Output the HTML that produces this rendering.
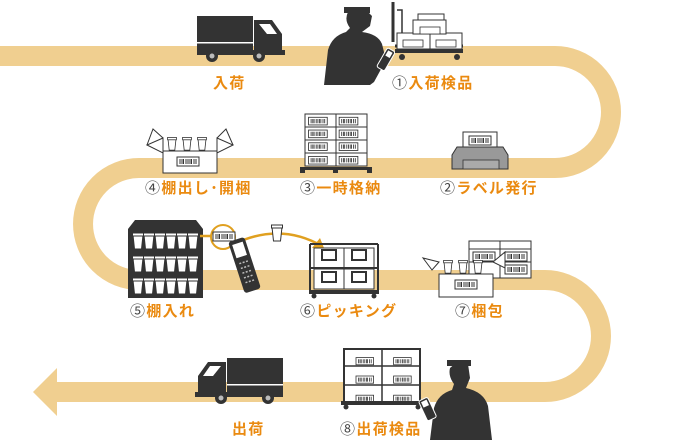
<!DOCTYPE html>
<html><head><meta charset="utf-8"><style>
html,body{margin:0;padding:0;background:#fff;width:680px;height:440px;overflow:hidden}
svg{display:block}
.l{font-family:"Liberation Sans","Noto Sans CJK JP",sans-serif;font-weight:bold;font-size:15px;letter-spacing:1.3px;fill:#ea8a10}
.n{fill:#444;font-weight:normal}
</style></head><body>
<svg width="680" height="440" viewBox="0 0 680 440">
<defs>
<g id="cup"><path d="M0,0 h10 l-1.5,14 h-7z" fill="#fff" stroke="#333" stroke-width="1"/><rect x="-0.5" y="-2" width="11" height="3" fill="#fff" stroke="#333" stroke-width="1"/></g>
<g id="bc"><rect x="0" y="0" width="22" height="9" fill="#fff" stroke="#333"/><path d="M3,2v5M5,2v5M6.5,2v5M9,2v5M11,2v5M13,2v5M14.5,2v5M17,2v5M19,2v5" stroke="#333" stroke-width="1"/></g>
<g id="truck"><rect x="0" y="0" width="56" height="34" fill="#333"/><rect x="0" y="26" width="56" height="1.5" fill="#fff"/><path d="M57,4 h18 l10,14 v16 h3 v5 H57z" fill="#333"/><path d="M62,8 h11 l7,10 h-10z" fill="#fff"/><rect x="0" y="34" width="86" height="5" fill="#333"/><circle cx="15" cy="40" r="6" fill="#333"/><circle cx="15" cy="40" r="2.5" fill="#bbb"/><circle cx="62" cy="40" r="6" fill="#333"/><circle cx="62" cy="40" r="2.5" fill="#bbb"/></g>
</defs>
<path d="M0,56 H555 A56,56 0 0 1 555,168 H139 A56,56 0 0 0 139,280 H545 A56,56 0 0 1 545,392 H52" fill="none" stroke="#f0cf90" stroke-width="20"/>
<path d="M33,392 L57,368 V416 Z" fill="#f0cf90"/>

<use href="#truck" x="197" y="16"/>
<text class="l" x="213" y="88">入荷</text>

<path d="M324,85 L328,50 Q332,36 346,32 L350,28 Q344,20 348,12 Q356,6 366,10 L372,16 L370,26 L362,32 Q378,34 382,44 L386,60 L374,82 L370,85Z" fill="#333"/>
<rect x="344" y="7" width="26" height="6" fill="#333"/>
<g transform="rotate(30 385 60)"><rect x="381" y="48" width="9" height="22" rx="2" fill="#333" stroke="#fff" stroke-width="1"/><rect x="383" y="50" width="5" height="6" fill="#fff"/></g>
<path d="M393,2 v40 M395,46 h68" stroke="#333" stroke-width="3" fill="none"/>
<path d="M397,10 h5 v30" stroke="#333" stroke-width="1.5" fill="none"/>
<rect x="397" y="33" width="33" height="16" fill="#fff" stroke="#333"/><rect x="430" y="33" width="32" height="16" fill="#fff" stroke="#333"/>
<rect x="413" y="20" width="33" height="14" fill="#fff" stroke="#333"/><rect x="418" y="14" width="26" height="6" fill="#fff" stroke="#333"/>
<rect x="403" y="40" width="20" height="7" fill="#fff" stroke="#333" stroke-width=".8"/><rect x="436" y="40" width="20" height="7" fill="#fff" stroke="#333" stroke-width=".8"/><rect x="420" y="27" width="20" height="7" fill="#fff" stroke="#333" stroke-width=".8"/>
<rect x="395" y="49" width="68" height="4" fill="#333"/><circle cx="402" cy="57" r="3" fill="#333"/><circle cx="457" cy="57" r="3" fill="#333"/>
<text class="l" x="392" y="88"><tspan class="n">①</tspan>入荷検品</text>

<path d="M163,138 L147,145 L163,153 Z M217,138 L233,145 L217,153Z" fill="#fff" stroke="#333"/>
<path d="M163,138 L153,129 L147,145 M217,138 L226,129 L233,145" fill="none" stroke="#333"/>
<g transform="translate(168,139) scale(.8)"><use href="#cup"/></g><g transform="translate(183,139) scale(.8)"><use href="#cup"/></g><g transform="translate(198,139) scale(.8)"><use href="#cup"/></g>
<rect x="163" y="151" width="54" height="22" fill="#fff" stroke="#333"/>
<use href="#bc" x="177" y="157"/>
<text class="l" x="145" y="193"><tspan class="n">④</tspan>棚出し･開梱</text>

<g fill="#fff" stroke="#333">
<rect x="305" y="114" width="31" height="13"/><rect x="336" y="114" width="31" height="13"/>
<rect x="305" y="127" width="31" height="13"/><rect x="336" y="127" width="31" height="13"/>
<rect x="305" y="140" width="31" height="13"/><rect x="336" y="140" width="31" height="13"/>
<rect x="305" y="153" width="31" height="13"/><rect x="336" y="153" width="31" height="13"/>
</g>
<g transform="scale(.85)"><use href="#bc" x="363" y="138"/><use href="#bc" x="399" y="138"/><use href="#bc" x="363" y="153"/><use href="#bc" x="399" y="153"/><use href="#bc" x="363" y="168"/><use href="#bc" x="399" y="168"/><use href="#bc" x="363" y="184"/><use href="#bc" x="399" y="184"/></g>
<rect x="300" y="167" width="72" height="3" fill="#333"/><rect x="300" y="167" width="5" height="6" fill="#333"/><rect x="333" y="167" width="5" height="6" fill="#333"/><rect x="367" y="167" width="5" height="6" fill="#333"/>
<text class="l" x="300" y="193"><tspan class="n">③</tspan>一時格納</text>

<rect x="463" y="132" width="34" height="17" fill="#fff" stroke="#333"/><use href="#bc" x="469" y="136"/>
<path d="M457,147 h46 l5,8 v14 h-56 v-14z" fill="#999" stroke="#333"/>
<rect x="463" y="160" width="36" height="9" fill="#aaa" stroke="#333" stroke-width=".8"/>
<text class="l" x="440" y="193"><tspan class="n">②</tspan>ラベル発行</text>

<path d="M128,229 L135,220 H196 L203,229 Z" fill="#333"/>
<rect x="128" y="229" width="75" height="69" fill="#333"/>
<g>
<use href="#cup" x="133" y="235"/><use href="#cup" x="144" y="235"/><use href="#cup" x="155" y="235"/><use href="#cup" x="166" y="235"/><use href="#cup" x="177" y="235"/><use href="#cup" x="188" y="235"/>
<use href="#cup" x="133" y="258"/><use href="#cup" x="144" y="258"/><use href="#cup" x="155" y="258"/><use href="#cup" x="166" y="258"/><use href="#cup" x="177" y="258"/><use href="#cup" x="188" y="258"/>
<use href="#cup" x="133" y="280"/><use href="#cup" x="144" y="280"/><use href="#cup" x="155" y="280"/><use href="#cup" x="166" y="280"/><use href="#cup" x="177" y="280"/><use href="#cup" x="188" y="280"/>
</g>
<text class="l" x="130" y="316"><tspan class="n">⑤</tspan>棚入れ</text>

<path d="M200,236 L222,236 M234,244 Q280,222 322,246" fill="none" stroke="#e0a020" stroke-width="2.5"/>
<path d="M324,248 L312,248 L320,238Z" fill="#e0a020"/>
<circle cx="223" cy="237" r="12" fill="#fff" stroke="#e0a020" stroke-width="2"/>
<use href="#bc" x="213" y="232"/>
<g transform="rotate(-18 245 265)"><rect x="236" y="238" width="17" height="54" rx="3" fill="#333"/><rect x="239" y="242" width="11" height="14" fill="#fff"/><path d="M240,262h9M240,267h9M240,272h9M240,277h9M240,282h9" stroke="#bbb" stroke-width="1.5" stroke-dasharray="2 1.5"/></g>
<use href="#cup" x="272" y="227"/>

<g fill="#fff" stroke="#333">
<rect x="314" y="248" width="30" height="20"/><rect x="344" y="248" width="30" height="20"/>
<rect x="314" y="269" width="30" height="20"/><rect x="344" y="269" width="30" height="20"/>
</g>
<path d="M310,244 V294 M378,244 V294 M310,268 H378 M310,244 H378 M322,250h14v10h-14zM352,250h14v10h-14zM322,272h14v10h-14zM352,272h14v10h-14z" fill="none" stroke="#333" stroke-width="2"/>
<rect x="309" y="290" width="70" height="4" fill="#333"/><circle cx="314" cy="296" r="2.5" fill="#333"/><circle cx="374" cy="296" r="2.5" fill="#333"/>
<text class="l" x="300" y="316"><tspan class="n">⑥</tspan>ピッキング</text>

<rect x="469" y="241" width="62" height="37" fill="#fff" stroke="#333"/><path d="M469,249 H531 M500,241 V278 M469,262 H531" stroke="#333"/>
<use href="#bc" x="473" y="252"/><use href="#bc" x="505" y="252"/><use href="#bc" x="505" y="265"/>
<path d="M439,262 L423,258 L432,270Z M493,262 L505,252 L505,268Z" fill="#fff" stroke="#333"/>
<g transform="translate(444,262) scale(.8)"><use href="#cup"/></g><g transform="translate(459,262) scale(.8)"><use href="#cup"/></g><g transform="translate(474,262) scale(.8)"><use href="#cup"/></g>
<rect x="439" y="274" width="54" height="23" fill="#fff" stroke="#333"/><use href="#bc" x="455" y="280"/>
<text class="l" x="455" y="316"><tspan class="n">⑦</tspan>梱包</text>

<use href="#truck" transform="translate(283,358) scale(-1,1)"/>
<text class="l" x="232" y="434">出荷</text>

<rect x="344" y="349" width="76" height="55" fill="#fff" stroke="#333" stroke-width="2"/>
<path d="M344,366H420M344,385H420M382,349V404" stroke="#333" stroke-width="1.5"/>
<g transform="scale(.8)"><use href="#bc" x="445" y="447"/><use href="#bc" x="492" y="447"/><use href="#bc" x="445" y="470"/><use href="#bc" x="492" y="470"/><use href="#bc" x="445" y="494"/><use href="#bc" x="492" y="494"/></g>
<rect x="341" y="401" width="82" height="4" fill="#333"/><circle cx="346" cy="407" r="2.5" fill="#333"/><circle cx="418" cy="407" r="2.5" fill="#333"/>
<text class="l" x="340" y="434"><tspan class="n">⑧</tspan>出荷検品</text>
<path d="M430,440 L434,408 Q438,394 452,390 L454,384 Q448,376 450,368 Q458,360 468,364 L470,378 L466,388 Q484,392 488,406 L492,440Z" fill="#333"/>
<rect x="447" y="360" width="24" height="6" fill="#333"/>
<g transform="rotate(-25 428 410)"><rect x="423" y="398" width="10" height="22" rx="2" fill="#333" stroke="#fff"/><rect x="425" y="400" width="6" height="6" fill="#fff"/></g>
</svg>
</body></html>
